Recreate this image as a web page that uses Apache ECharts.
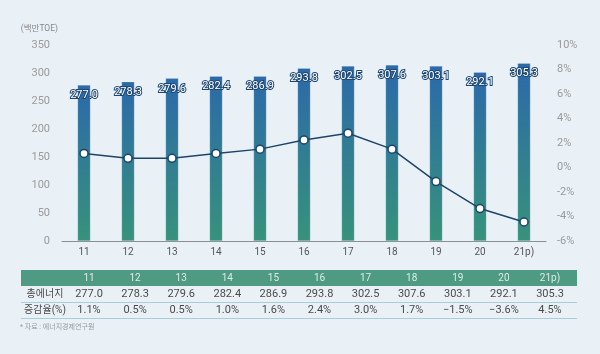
<!DOCTYPE html>
<html><head><meta charset="utf-8">
<script src="https://cdn.jsdelivr.net/npm/echarts@6/dist/echarts.min.js"></script>
<style>html,body{margin:0;padding:0;background:#e9f1f7;}#c{width:600px;height:354px;}</style>
</head><body><div id="c"></div>
<script>
const categories = ['11','12','13','14','15','16','17','18','19','20','21p)'];
// values printed on the bars / in the table
const energy = [277.0, 278.3, 279.6, 282.4, 286.9, 293.8, 302.5, 307.6, 303.1, 292.1, 305.3];
// bar heights as drawn in the picture (read against the left axis)
const barHeights = [278.5, 284.5, 290.5, 294.5, 294.5, 308.5, 312.5, 314.5, 312.5, 301.5, 317.5];
// rate as plotted in the picture (line positions)
const ratePlotted = [1.15, 0.75, 0.75, 1.15, 1.5, 2.25, 2.8, 1.5, -1.15, -3.35, -4.45];
// rate as printed in the table
const rateTable = ['1.1%','0.5%','0.5%','1.0%','1.6%','2.4%','3.0%','1.7%','\u22121.5%','\u22123.6%','4.5%'];
const leftTicks = {min:0, max:350, interval:50};
const rightTicks = {min:-6, max:10, interval:2};
const rowLabels = ['총에너지','증감율(%)'];
const unitName = '(백만TOE)';
const source = '* 자료 : 에너지경제연구원';

const FONT = 'Roboto, "Noto Sans CJK KR", sans-serif';
const chart = echarts.init(document.getElementById('c'));

// table graphics
const g = [];
const tLeft = 21, tRight = 577, colX0 = 89, colStep = 46.1;
g.push({type:'rect', shape:{x:tLeft, y:270, width:tRight-tLeft, height:16}, style:{fill:'#4f9a83'}});
g.push({type:'line', shape:{x1:tLeft, y1:302.5, x2:tRight, y2:302.5}, style:{stroke:'#a9ced8', lineWidth:1}});
g.push({type:'line', shape:{x1:tLeft, y1:318.5, x2:tRight, y2:318.5}, style:{stroke:'#a9ced8', lineWidth:1}});
categories.forEach((c,i)=>{
  const x = colX0 + i*colStep;
  g.push({type:'text', x:x, y:278, style:{text:c, fill:'#d9ede5', font:'10px '+FONT, textAlign:'center', textVerticalAlign:'middle'}});
  g.push({type:'text', x:x, y:294.5, style:{text:energy[i].toFixed(1), fill:'#4a4a4a', font:'11px '+FONT, textAlign:'center', textVerticalAlign:'middle'}});
  g.push({type:'text', x:x, y:310.5, style:{text:rateTable[i], fill:'#4a4a4a', font:'11px '+FONT, textAlign:'center', textVerticalAlign:'middle'}});
});
g.push({type:'text', x:45, y:294.5, style:{text:rowLabels[0], fill:'#4a4a4a', font:'10px '+FONT, textAlign:'center', textVerticalAlign:'middle'}});
g.push({type:'text', x:45, y:310.5, style:{text:rowLabels[1], fill:'#4a4a4a', font:'10px '+FONT, textAlign:'center', textVerticalAlign:'middle'}});
g.push({type:'text', x:20, y:327, style:{text:source, fill:'#9a9a9a', font:'7px '+FONT, textAlign:'left', textVerticalAlign:'middle'}});

chart.setOption({
  backgroundColor:'#e9f1f7',
  animation:false,
  textStyle:{fontFamily:FONT},
  grid:{left:62, right:54, top:45, bottom:113},
  xAxis:{type:'category', data:categories,
    axisLine:{lineStyle:{color:'#8a8f94', width:1}}, axisTick:{show:false},
    axisLabel:{color:'#555', fontSize:10, margin:6}},
  yAxis:[
    {type:'value', min:leftTicks.min, max:leftTicks.max, interval:leftTicks.interval,
     name:unitName, nameLocation:'end', nameGap:12,
     nameTextStyle:{color:'#888', fontSize:8.5, align:'right', padding:[0,4,0,0]},
     splitLine:{show:false}, axisLine:{show:false}, axisTick:{show:false},
     axisLabel:{color:'#9a9a9a', fontSize:11, margin:12}},
    {type:'value', min:rightTicks.min, max:rightTicks.max, interval:rightTicks.interval,
     splitLine:{show:false}, axisLine:{show:false}, axisTick:{show:false},
     axisLabel:{color:'#9a9a9a', fontSize:11, margin:11, formatter:v=>v+'%'}}
  ],
  series:[
    {type:'bar', data:barHeights, barWidth:13,
     itemStyle:{color:new echarts.graphic.LinearGradient(0,0,0,1,[{offset:0,color:'#2b69aa'},{offset:1,color:'#37927b'}]),
       borderColor:'rgba(255,255,255,0.3)', borderWidth:0.6},
     label:{show:true, position:'insideTop', distance:5, formatter:p=>energy[p.dataIndex].toFixed(1),
       color:'#fff', fontSize:11, textBorderColor:'#1e4670', textBorderWidth:2}},
    {type:'line', yAxisIndex:1, data:ratePlotted, symbol:'circle', symbolSize:8,
     lineStyle:{color:'#1d4569', width:1.5},
     itemStyle:{color:'#fff', borderColor:'#1d4569', borderWidth:1.5}, z:5}
  ],
  graphic:g
});
</script></body></html>
